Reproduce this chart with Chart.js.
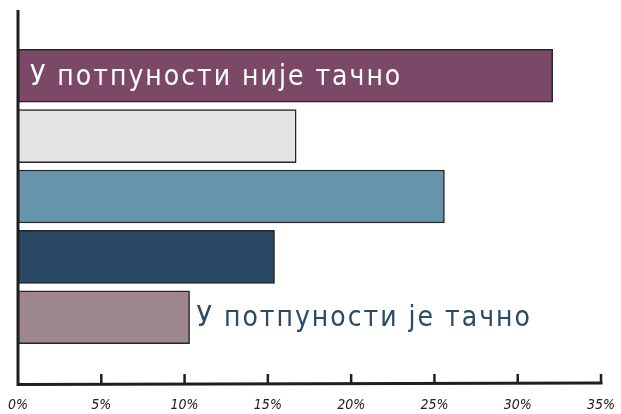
<!DOCTYPE html>
<html>
<head>
<meta charset="utf-8">
<script src="https://cdn.jsdelivr.net/npm/chart.js@4/dist/chart.umd.min.js"></script>
<style>
    html, body { margin: 0; padding: 0; background: #fff; }
    #wrap { width: 621px; height: 414px; }
</style>
</head>
<body>
<div id="wrap"><canvas id="chart"></canvas></div>
<script>
    // answers, top to bottom; only the two ends carry a label in the picture
    const categories = ["У потпуности није тачно", "", "", "", "У потпуности је тачно"];
    const values = [32.1, 16.7, 25.6, 15.4, 10.3];
    const colors = ["#7c4867", "#e3e3e2", "#6694ab", "#2a4763", "#9f8791"];
    const tickValues = [0, 5, 10, 15, 20, 25, 30, 35];

    const AXIS_COLOR = "#1f1f1f";
    const HAND_FONT = "'DejaVu Sans Condensed', 'DejaVu Sans', sans-serif";

    var axesAndLabels = {
        id: "axesAndLabels",
        afterDatasetsDraw(chart) {
            var ctx = chart.ctx,
                area = chart.chartArea,
                xScale = chart.scales.x;

            ctx.save();
            ctx.strokeStyle = AXIS_COLOR;
            ctx.lineWidth = 3;
            ctx.lineCap = "butt";

            ctx.beginPath();
            ctx.moveTo(area.left, area.top);
            ctx.lineTo(area.left, area.bottom + 1.5);
            ctx.lineTo(area.right + 1.5, area.bottom);
            ctx.stroke();

            ctx.lineWidth = 2.5;
            tickValues.slice(1).forEach(v => {
                var x = xScale.getPixelForValue(v);
                ctx.beginPath();
                ctx.moveTo(x, area.bottom);
                ctx.lineTo(x, area.bottom - 9);
                ctx.stroke();
            });

            // labels for the two end answers
            var bars = chart.getDatasetMeta(0).data;
            ctx.textBaseline = "middle";
            ctx.letterSpacing = "2px";
            ctx.font = "28px " + HAND_FONT;

            var first = bars[0];
            ctx.fillStyle = "#ffffff";
            ctx.textAlign = "left";
            ctx.fillText(categories[0], first.base + 12, first.y + 2);

            var last = bars[bars.length - 1];
            ctx.fillStyle = "#2a4a68";
            ctx.fillText(categories[categories.length - 1], last.x + 7, last.y + 2);

            ctx.restore();
        }
    };

    new Chart(document.getElementById("chart"), {
        type: "bar",
        data: {
            datasets: [{
                data: values.map((v, i) => ({ x: v, y: i })),
                backgroundColor: colors,
                borderColor: "#262626",
                borderWidth: 1.5,
                borderSkipped: false,
                barThickness: 53
            }]
        },
        options: {
            indexAxis: "y",
            responsive: true,
            maintainAspectRatio: false,
            animation: false,
            layout: {
                padding: { left: 18, right: 20, top: 10, bottom: 0 }
            },
            plugins: {
                legend: { display: false },
                tooltip: { enabled: false }
            },
            scales: {
                x: {
                    type: "linear",
                    min: 0,
                    max: 35,
                    afterBuildTicks: scale => {
                        scale.ticks = tickValues.map(v => ({ value: v }));
                    },
                    afterFit: scale => {
                        scale.height = 31;
                        scale.paddingLeft = 0;
                        scale.paddingRight = 0;
                    },
                    grid: { display: false, drawTicks: false },
                    border: { display: false },
                    ticks: {
                        padding: 14,
                        color: "#222",
                        maxRotation: 0,
                        font: { family: HAND_FONT, size: 14, style: "italic" },
                        callback: v => v + "%"
                    }
                },
                y: {
                    type: "linear",
                    display: false,
                    offset: false,
                    reverse: true,
                    min: -1.09,
                    max: 5.09
                }
            }
        },
        plugins: [axesAndLabels]
    });
</script>
</body>
</html>
